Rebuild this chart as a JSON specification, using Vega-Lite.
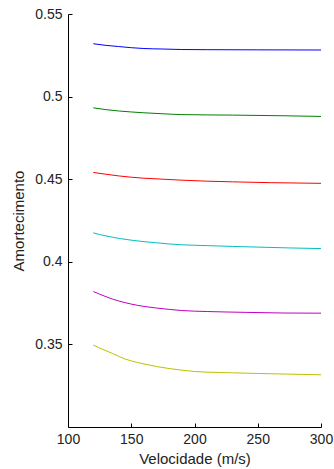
{
  "$schema": "https://vega.github.io/schema/vega-lite/v6.json",
  "autosize": {"type": "none"},
  "padding": {"left": 68, "top": 14, "right": 13, "bottom": 42},
  "width": 253,
  "height": 413,
  "background": "white",
  "config": {
    "view": {"stroke": null},
    "font": "Liberation Sans",
    "axis": {"grid": false, "domainColor": "#000", "tickColor": "#000", "labelColor": "#222", "titleColor": "#222", "labelFontSize": 14, "titleFontSize": 15, "titleFontWeight": "normal", "labelFont": "Liberation Sans", "titleFont": "Liberation Sans"}
  },
  "data": {"values": [
    {"s": "b", "v": 120, "a": 0.532}, {"s": "b", "v": 130, "a": 0.5310}, {"s": "b", "v": 140, "a": 0.5303}, {"s": "b", "v": 150, "a": 0.5296}, {"s": "b", "v": 160, "a": 0.5291}, {"s": "b", "v": 175, "a": 0.5288}, {"s": "b", "v": 190, "a": 0.5285}, {"s": "b", "v": 210, "a": 0.5284}, {"s": "b", "v": 250, "a": 0.5283}, {"s": "b", "v": 300, "a": 0.5282},
    {"s": "g", "v": 120, "a": 0.4932}, {"s": "g", "v": 130, "a": 0.4921}, {"s": "g", "v": 140, "a": 0.4913}, {"s": "g", "v": 150, "a": 0.4907}, {"s": "g", "v": 160, "a": 0.4902}, {"s": "g", "v": 175, "a": 0.4896}, {"s": "g", "v": 190, "a": 0.4891}, {"s": "g", "v": 230, "a": 0.4888}, {"s": "g", "v": 270, "a": 0.4884}, {"s": "g", "v": 300, "a": 0.4880},
    {"s": "r", "v": 120, "a": 0.4541}, {"s": "r", "v": 130, "a": 0.4530}, {"s": "r", "v": 140, "a": 0.4520}, {"s": "r", "v": 150, "a": 0.4512}, {"s": "r", "v": 160, "a": 0.4506}, {"s": "r", "v": 175, "a": 0.4500}, {"s": "r", "v": 190, "a": 0.4494}, {"s": "r", "v": 210, "a": 0.4488}, {"s": "r", "v": 230, "a": 0.4484}, {"s": "r", "v": 260, "a": 0.4479}, {"s": "r", "v": 300, "a": 0.4475},
    {"s": "c", "v": 120, "a": 0.4175}, {"s": "c", "v": 125, "a": 0.4165}, {"s": "c", "v": 130, "a": 0.4157}, {"s": "c", "v": 135, "a": 0.4149}, {"s": "c", "v": 140, "a": 0.4142}, {"s": "c", "v": 150, "a": 0.4131}, {"s": "c", "v": 160, "a": 0.4122}, {"s": "c", "v": 170, "a": 0.4115}, {"s": "c", "v": 180, "a": 0.4108}, {"s": "c", "v": 190, "a": 0.4103}, {"s": "c", "v": 210, "a": 0.4098}, {"s": "c", "v": 230, "a": 0.4093}, {"s": "c", "v": 250, "a": 0.4089}, {"s": "c", "v": 275, "a": 0.4084}, {"s": "c", "v": 300, "a": 0.4080},
    {"s": "m", "v": 120, "a": 0.3820}, {"s": "m", "v": 125, "a": 0.3804}, {"s": "m", "v": 130, "a": 0.3789}, {"s": "m", "v": 135, "a": 0.3775}, {"s": "m", "v": 140, "a": 0.3763}, {"s": "m", "v": 145, "a": 0.3753}, {"s": "m", "v": 150, "a": 0.3744}, {"s": "m", "v": 160, "a": 0.3730}, {"s": "m", "v": 170, "a": 0.3720}, {"s": "m", "v": 180, "a": 0.3712}, {"s": "m", "v": 190, "a": 0.3705}, {"s": "m", "v": 210, "a": 0.3699}, {"s": "m", "v": 240, "a": 0.3694}, {"s": "m", "v": 270, "a": 0.3690}, {"s": "m", "v": 300, "a": 0.3689},
    {"s": "y", "v": 120, "a": 0.3496}, {"s": "y", "v": 125, "a": 0.3478}, {"s": "y", "v": 130, "a": 0.3462}, {"s": "y", "v": 135, "a": 0.3446}, {"s": "y", "v": 140, "a": 0.3428}, {"s": "y", "v": 145, "a": 0.3412}, {"s": "y", "v": 150, "a": 0.3400}, {"s": "y", "v": 160, "a": 0.3382}, {"s": "y", "v": 170, "a": 0.3366}, {"s": "y", "v": 180, "a": 0.3354}, {"s": "y", "v": 190, "a": 0.3344}, {"s": "y", "v": 200, "a": 0.3336}, {"s": "y", "v": 210, "a": 0.3332}, {"s": "y", "v": 230, "a": 0.3328}, {"s": "y", "v": 250, "a": 0.3324}, {"s": "y", "v": 275, "a": 0.3320}, {"s": "y", "v": 300, "a": 0.3316}
  ]},
  "mark": {"type": "line", "strokeWidth": 1, "interpolate": "monotone"},
  "encoding": {
    "x": {"field": "v", "type": "quantitative", "scale": {"domain": [100, 300], "nice": false, "zero": false}, "axis": {"values": [100, 150, 200, 250, 300], "title": "Velocidade (m/s)", "tickSize": -4, "labelPadding": 9, "titlePadding": 5, "labelFlush": false}},
    "y": {"field": "a", "type": "quantitative", "scale": {"domain": [0.3, 0.55], "nice": false, "zero": false}, "axis": {"values": [0.35, 0.4, 0.45, 0.5, 0.55], "format": ".2~f", "title": "Amortecimento", "tickSize": -4, "labelPadding": 10, "titlePadding": 8}},
    "color": {"field": "s", "type": "nominal", "legend": null, "scale": {"domain": ["b", "g", "r", "c", "m", "y"], "range": ["#0000FF", "#008000", "#FF0000", "#00BFBF", "#BF00BF", "#BFBF00"]}}
  }
}
